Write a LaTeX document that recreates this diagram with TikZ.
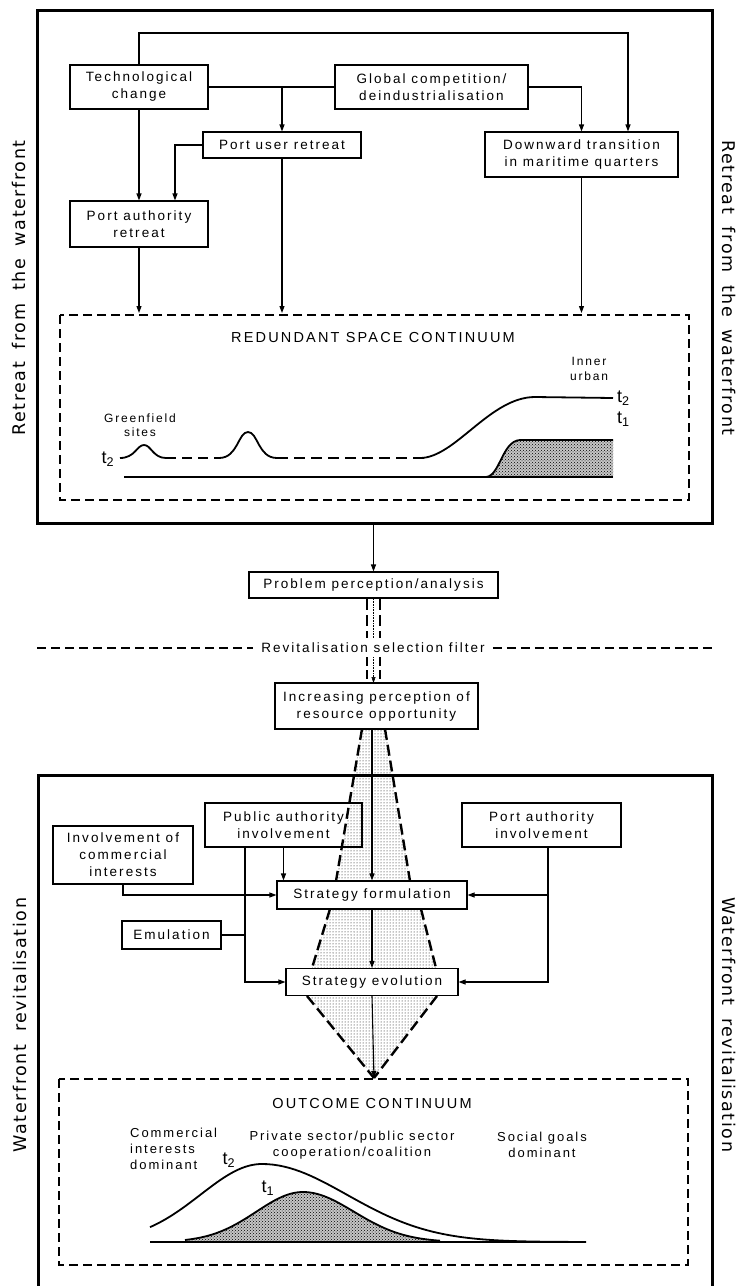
\documentclass[tikz,border=0pt]{standalone}
\usepackage{fontspec}
\setmainfont{Liberation Sans}[LetterSpace=15]
\newfontfamily\sidefont{DejaVu Sans}[LetterSpace=9,WordSpace=1.8]
\usetikzlibrary{patterns,arrows.meta}
\begin{document}
\begin{tikzpicture}[x=1pt,y=-1pt,
  box/.style={draw, line width=1.1pt, inner sep=1pt, align=center, font=\fontsize{13.5}{17}\selectfont},
  lbl/.style={inner sep=0pt, align=center, font=\fontsize{13}{16}\selectfont},
  small/.style={inner sep=0pt, align=center, font=\fontsize{12}{14.5}\selectfont},
  tlab/.style={inner sep=0pt, font=\fontsize{18}{18}\selectfont},
  arr/.style={line width=1.1pt, -{Triangle[length=7pt,width=5pt]}},
  ln/.style={line width=1.1pt},
  dbox/.style={line width=2pt, dash pattern=on 9pt off 5pt},
  fdash/.style={line width=2.4pt, dash pattern=on 11pt off 5pt},
  outer/.style={line width=3pt},
  curve/.style={line width=1.8pt},
  side/.style={inner sep=0pt, font=\sidefont\fontsize{17.5}{20}\selectfont},
  dark/.style={fill=gray!45, postaction={pattern=crosshatch dots}},
]
\useasboundingbox (0,0) rectangle (742,1286);

% ---------- top section ----------
\draw[outer] (37,10) rectangle (712,523);
\node[side, rotate=90] (sideTL) at (19,288) {Retreat from the waterfront};
\node[side, rotate=-90] (sideTR) at (729,288) {Retreat from the waterfront};

\node[box, minimum width=138, minimum height=44] (tech) at (139,87) {Technological\\change};
\node[box, minimum width=193, minimum height=44] (global) at (431.5,87) {Global competition/\\deindustrialisation};
\node[box, minimum width=158, minimum height=26] (portuser) at (282,145) {Port user retreat};
\node[box, minimum width=193, minimum height=45] (downward) at (581.5,154.5) {Downward transition\\in maritime quarters};
\node[box, minimum width=138, minimum height=46] (portauth) at (139,224) {Port authority\\retreat};

\coordinate (loopR) at (628,33);
\coordinate (brU) at (282,87);
\coordinate (puL) at (175,145);
\coordinate (rsTop) at (0,313);

\draw[arr] (tech.north) |- (loopR) -- (loopR |- downward.north);
\draw[ln] (tech.east) -- (global.west);
\draw[arr] (brU) -- (portuser.north);
\draw[arr] (global.east) -| (downward.north);
\draw[arr] (tech.south) -- (portauth.north);
\draw[arr] (portuser.west) -- (puL) -- (puL |- portauth.north);
\draw[arr] (portauth.south) -- (portauth.south |- rsTop);
\draw[arr] (portuser.south) -- (portuser.south |- rsTop);
\draw[arr] (downward.south) -- (downward.south |- rsTop);

% redundant space continuum
\draw[dbox] (60,315) rectangle (689,500);
\node[lbl, font=\fontsize{14.5}{16}\selectfont] (rtitle) at (373,338) {REDUNDANT SPACE CONTINUUM};
\node[small] (green) at (140,425) {Greenfield\\sites};
\node[small] (inner) at (589,369) {Inner\\urban};
\node[tlab] (t2a) at (108,459) {t\textsubscript{2}};
\node[tlab, anchor=west] (t2b) at (617,398) {t\textsubscript{2}};
\node[tlab, anchor=west] (t1b) at (617,419) {t\textsubscript{1}};

\path[dark] (486,477) .. controls (500,476) and (502,441) .. (520,440) -- (613,440) -- (613,477) -- cycle;
\draw[curve] (124,477) -- (613,477);
\draw[curve] (486,477) .. controls (500,476) and (502,441) .. (520,440) -- (613,440);
\draw[curve] (120,458) .. controls (135,458) and (137,445) .. (144,445) .. controls (151,445) and (153,458) .. (166,458);
\draw[curve, dash pattern=on 10pt off 6pt] (166,458) -- (219,458);
\draw[curve] (219,458) .. controls (238,458) and (238,432) .. (248,432) .. controls (258,432) and (258,458) .. (277,458);
\draw[curve, dash pattern=on 11pt off 6pt] (277,458) -- (429,458);
\draw[curve] (420,458) .. controls (455,458) and (490,397) .. (535,397) -- (613,398);

% ---------- middle ----------
\coordinate (ob) at (373.5,523);
\node[box, minimum width=249, minimum height=26] (problem) at (373.5,585) {Problem perception/analysis};
\draw[arr] (ob) -- (problem.north);

\node[lbl, fill=white, inner xsep=8pt, font=\fontsize{13.5}{15}\selectfont] (filter) at (373,648) {Revitalisation selection filter};
\coordinate (fL) at (37,648);
\coordinate (fR) at (712,648);
\draw[dbox] (fL) -- (filter.west);
\draw[dbox] (filter.east) -- (fR);

\node[box, minimum width=203, minimum height=46] (increasing) at (376.5,706) {Increasing perception of\\resource opportunity};

\draw[fdash] (367,599) -- (367,638);
\draw[fdash] (380,599) -- (380,638);
\draw[line width=0.6pt, densely dotted] (373.5,599) -- (373.5,638);
\draw[fdash, dash pattern=on 9pt off 4pt] (367,657) -- (367,683);
\draw[fdash, dash pattern=on 9pt off 4pt] (380,657) -- (380,683);
\draw[line width=0.6pt, densely dotted, -{Triangle[length=6pt,width=4pt]}] (373.5,657) -- (373.5,683);

% ---------- lower section ----------
\draw[outer] (38,1290) -- (38,775) -- (712,775) -- (712,1290);
\node[side, rotate=90] (sideBL) at (20,1025) {Waterfront revitalisation};
\node[side, rotate=-90] (sideBR) at (729,1025) {Waterfront revitalisation};

\node[box, minimum width=157, minimum height=44] (public) at (283.5,825) {Public authority\\involvement};
\node[box, minimum width=159, minimum height=44] (portinv) at (541.5,825) {Port authority\\involvement};
\node[box, minimum width=140, minimum height=58] (involve) at (123,855) {Involvement of\\commercial\\interests};
\node[box, minimum width=190, minimum height=28] (formulation) at (372,895) {Strategy formulation};
\node[box, minimum width=99, minimum height=28] (emulation) at (171.5,935) {Emulation};
\node[box, minimum width=172, minimum height=27] (evolution) at (372,982) {Strategy evolution};

% funnel
\fill[pattern=dots] (362,729) -- (385,729) -- (410,881) -- (336,881) -- cycle;
\draw[fdash] (362,729) -- (336,881);
\draw[fdash] (385,729) -- (410,881);
\fill[pattern=dots] (330,909) -- (421,909) -- (436,968) -- (312,968) -- cycle;
\draw[fdash] (330,909) -- (312,968);
\draw[fdash] (421,909) -- (436,968);
\fill[pattern=dots] (307,996) -- (437,996) -- (374,1078) -- cycle;
\draw[fdash] (307,996) -- (374,1078);
\draw[fdash] (437,996) -- (374,1078);

\coordinate (outTop) at (374,1078);
\draw[arr] (formulation.north |- increasing.south) -- (formulation.north);
\draw[arr] (formulation.south) -- (evolution.north);
\draw[arr] (evolution.south) -- (outTop);

\coordinate (pa) at (245,847);
\coordinate (pr) at (548,847);
\draw[arr] (pa) |- (evolution.west);
\draw[ln] (emulation.east) -- (emulation.east -| pa);
\draw[arr] (public.south) -- (public.south |- formulation.north);
\draw[arr] (involve.south) |- (formulation.west);
\draw[arr] (pr) |- (evolution.east);
\draw[arr] (pr |- formulation.east) -- (formulation.east);

% outcome continuum
\draw[dbox] (59,1079) rectangle (688,1265);
\node[lbl, font=\fontsize{14.5}{16}\selectfont] (otitle) at (372,1103) {OUTCOME CONTINUUM};
\node[lbl, align=left, anchor=north west] (comm) at (130,1128) {Commercial\\interests\\dominant};
\node[lbl] (priv) at (352,1145) {Private sector/public sector\\cooperation/coalition};
\node[lbl] (social) at (542,1145) {Social goals\\dominant};
\node[tlab] (t2c) at (229,1160) {t\textsubscript{2}};
\node[tlab] (t1c) at (268,1188) {t\textsubscript{1}};

\path[dark] plot[domain=185:303, samples=40] (\x, {1242-50*exp(-((\x-303)/66)^2)}) -- plot[domain=303:440, samples=40] (\x, {1242-50*exp(-((\x-303)/72)^2)}) -- (440,1242) -- (185,1242) -- cycle;
\draw[curve] (150,1242) -- (586,1242);
\draw[curve] plot[domain=185:303, samples=40] (\x, {1242-50*exp(-((\x-303)/66)^2)}) -- plot[domain=303:440, samples=40] (\x, {1242-50*exp(-((\x-303)/72)^2)});
\draw[curve] plot[domain=150:262, samples=40] (\x, {1242-78*exp(-((\x-262)/87)^2)}) -- plot[domain=262:586, samples=60] (\x, {1242-78*exp(-((\x-262)/120)^2)});
\end{tikzpicture}
\end{document}
